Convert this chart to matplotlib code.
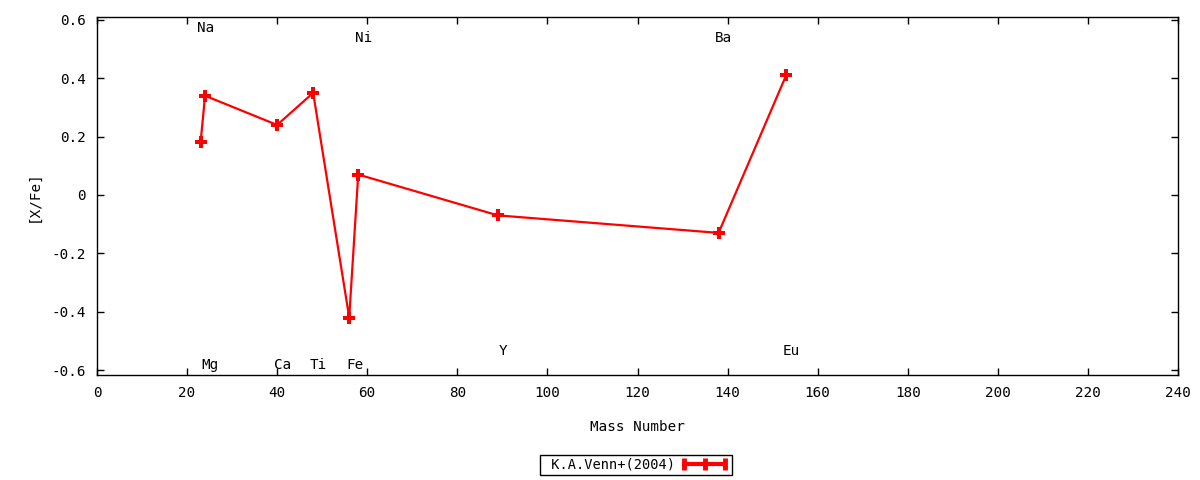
import matplotlib
matplotlib.use("Agg")
import matplotlib.pyplot as plt
from matplotlib.lines import Line2D
from matplotlib.legend_handler import HandlerLine2D
from matplotlib.ticker import FixedLocator, FuncFormatter

# Data
elements = ["Na", "Mg", "Ca", "Ti", "Fe", "Ni", "Y", "Ba", "Eu"]
mass = [23, 24, 40, 48, 56, 58, 89, 138, 153]
xfe = [0.18, 0.34, 0.24, 0.35, -0.42, 0.07, -0.07, -0.13, 0.41]
label_y = [0.572, -0.583, -0.583, -0.583, -0.583, 0.537, -0.535, 0.537, -0.535]
series_name = "K.A.Venn+(2004)"
x_ticks = list(range(0, 241, 20))
y_ticks = [-0.6, -0.4, -0.2, 0, 0.2, 0.4, 0.6]

plt.rcParams['font.family'] = ['DejaVu Sans Mono']
FS = 9.8

fig = plt.figure(figsize=(12, 4.8), dpi=100)
ax = fig.add_axes([0.0808, 0.2188, 0.9817 - 0.0808, 0.9646 - 0.2188])

ax.plot(mass, xfe, color='red', lw=1.6, marker='P', markersize=9,
        markeredgewidth=0)

for el, m, ly in zip(elements, mass, label_y):
    ax.text(m + 1.2, ly, el, ha='center', va='center', fontsize=FS + 0.5)

ax.set_xlim(0, 240)
ax.set_ylim(-0.617, 0.61)
ax.xaxis.set_major_locator(FixedLocator(x_ticks))
ax.yaxis.set_major_locator(FixedLocator(y_ticks))
ax.yaxis.set_major_formatter(FuncFormatter(lambda v, p: "0" if abs(v) < 1e-9 else ("%g" % v)))
ax.tick_params(direction='in', length=5, width=1, top=True, right=True,
               labelsize=FS + 0.5, pad=8)
for s in ax.spines.values():
    s.set_linewidth(1)

ax.set_xlabel("Mass Number", fontsize=FS + 0.5, labelpad=14)
ax.set_ylabel("[X/Fe]", fontsize=FS + 0.5, labelpad=8)

sample = Line2D([], [], color='red', lw=3, marker='|', markersize=8, markeredgewidth=3.5)
leg = fig.legend([sample], [" " + series_name],
                 handler_map={sample: HandlerLine2D(numpoints=3)},
                 loc='center', bbox_to_anchor=(636 / 1200, 1 - 465 / 480),
                 markerfirst=False, fancybox=False, framealpha=1,
                 edgecolor='black', fontsize=FS, handlelength=3.6,
                 borderpad=0.22, handletextpad=0.4, borderaxespad=0)
leg.get_frame().set_linewidth(1)

fig.savefig("out.png", dpi=100)
